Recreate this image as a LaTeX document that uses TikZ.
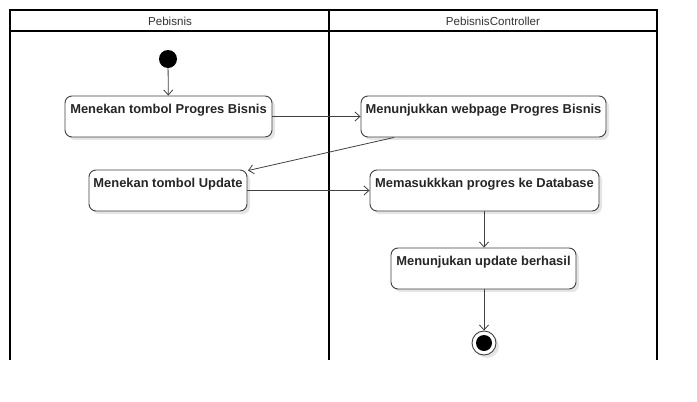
\documentclass[tikz,border=0pt]{standalone}
\usepackage{fontspec}
\setmainfont{Liberation Sans}
\usetikzlibrary{arrows.meta}
\begin{document}
\begin{tikzpicture}[x=1pt,y=-1pt,
  act/.style={draw=black!75, line width=0.9pt, rounded corners=7pt, fill=white,
    font=\bfseries\fontsize{12.9}{14}\selectfont, text=black!85,
    inner xsep=0pt, inner ysep=3pt, text height=14.5pt, text depth=20.5pt},
  shad/.style={fill=black!10, rounded corners=7pt, draw=none},
  flow/.style={draw=black!75, line width=0.8pt, -{Straight Barb[length=5pt,width=9pt]}},
  lane/.style={draw=black, line width=1.8pt},
  hdr/.style={font=\fontsize{11.6}{13}\selectfont, text=black!80}]
\useasboundingbox (0,0) rectangle (697,402);
% swimlanes
\draw[lane] (10,360) -- (10,10) -- (657,10) -- (657,360);
\draw[lane] (329,10) -- (329,360);
\draw[lane] (10,31) -- (657,31);
\node[hdr] (h1) at (170,21) {Pebisnis};
\node[hdr] (h2) at (493,21) {PebisnisController};
% shadows
\fill[shad] (68,99) rectangle (275,140);
\fill[shad] (364,99) rectangle (609,140);
\fill[shad] (92,173) rectangle (250,214);
\fill[shad] (373,173) rectangle (602,214);
\fill[shad] (394,251) rectangle (579,292);
\fill[black!10] (487,346) circle (12);
% nodes
\node[circle, fill=black, minimum size=18pt, inner sep=0pt] (start) at (168,59) {};
\node[act, minimum width=207pt] (a1) at (168.5,116.5) {Menekan tombol Progres Bisnis};
\node[act, minimum width=245pt] (a2) at (483.5,116.5) {Menunjukkan webpage Progres Bisnis};
\node[act, minimum width=158pt] (a3) at (168,190.5) {Menekan tombol Update};
\node[act, minimum width=229pt] (a4) at (484.5,190.5) {Memasukkkan progres ke Database};
\node[act, minimum width=185pt] (a5) at (483.5,268.5) {Menunjukan update berhasil};
\node[circle, draw=black!75, line width=0.9pt, fill=white, minimum size=24pt, inner sep=0pt] (end) at (484,343) {};
\fill[black] (end.center) circle (8);
% flows
\draw[flow] (start) -- (a1);
\draw[flow] (a1) -- (a2);
\draw[flow] ([xshift=-89.5pt]a2.south) -- ([xshift=80pt,yshift=-1pt]a3.north);
\draw[flow] (a3) -- (a4);
\draw[flow] (a4.south -| end) -- (a5.north -| end);
\draw[flow] (a5.south -| end) -- (end);
\end{tikzpicture}
\end{document}
